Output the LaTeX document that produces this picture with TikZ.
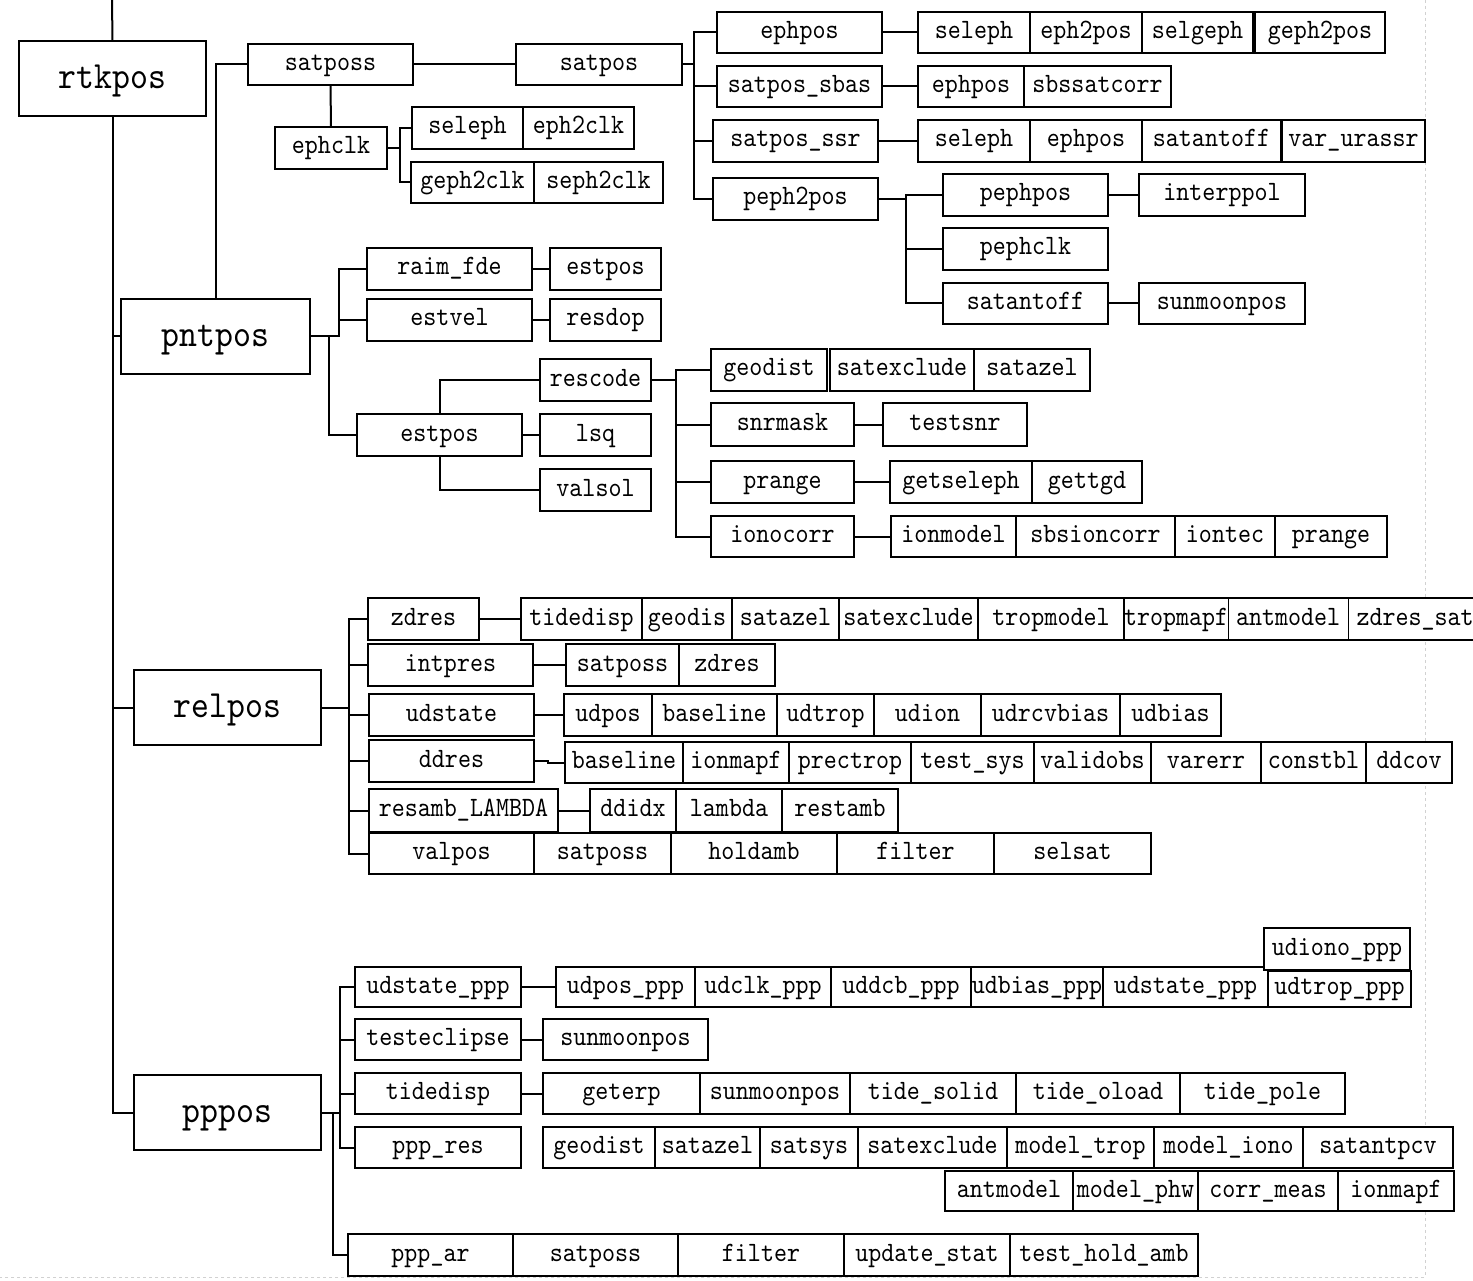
\documentclass[tikz,border=0pt]{standalone}
\usepackage{fontspec}
\newfontfamily\fnmono{lmmono10-regular.otf}[FakeStretch=0.885]
\usetikzlibrary{positioning}

\begin{document}
\begin{tikzpicture}[x=1pt, y=-1pt,
  fn/.style={draw, fill=white, line width=1.1pt, inner sep=0pt, outer sep=0pt, minimum height=42pt,
    text height=17pt, text depth=5pt, font=\fnmono\fontsize{28}{28}\selectfont},
  cell/.style={fn, anchor=north west},
  main/.style={cell, minimum width=187pt, minimum height=75pt, text height=26pt, text depth=6pt,
    font=\fnmono\fontsize{38.5}{38.5}\selectfont},
  link/.style={line width=2pt},
  page/.style={draw=black!18, dashed, line width=0.8pt},
]
  \useasboundingbox (0,0) rectangle (1473,1281);
  \draw[page] (1425,0) -- (1425,1277) -- (0,1277);

  \node[main] (rtkpos) at (19,41) {rtkpos};
  \node[main, minimum width=189pt] (pntpos) at (121,299) {pntpos};
  \node[main] (relpos) at (134,670) {relpos};
  \node[main] (pppos) at (134,1075) {pppos};

  \node[cell, minimum width=165pt, minimum height=41pt] (satposs) at (248,44) {satposs};
  \node[cell, minimum width=166pt, minimum height=41pt] (satpos) at (516,44) {satpos};
  \node[cell, minimum width=112pt] (ephclk) at (275,127) {ephclk};
  \node[cell, minimum width=111pt] (ec1) at (412,107) {seleph};
  \node[fn, minimum width=111pt, right=0pt of ec1] (ec2) {eph2clk};
  \node[cell, minimum width=123pt, minimum height=41pt] (ec3) at (411,162) {geph2clk};
  \node[fn, minimum width=129pt, minimum height=41pt, right=0pt of ec3] (ec4) {seph2clk};

  \node[cell, minimum width=165pt, minimum height=41pt] (ephpos) at (717,12) {ephpos};
  \node[cell, minimum width=165pt, minimum height=41pt] (sbas) at (717,66) {satpos\_sbas};
  \node[cell, minimum width=165pt] (ssr) at (713,120) {satpos\_ssr};
  \node[cell, minimum width=165pt] (peph) at (713,178) {peph2pos};

  \node[cell, minimum width=112pt, minimum height=41pt] (ep1) at (918,12) {seleph};
  \node[fn, minimum width=112pt, minimum height=41pt, right=0pt of ep1] (ep2) {eph2pos};
  \node[fn, minimum width=111pt, minimum height=41pt, right=0pt of ep2] (ep3) {selgeph};
  \node[fn, minimum width=130pt, minimum height=41pt, right=2pt of ep3] (ep4) {geph2pos};
  \node[cell, minimum width=106pt, minimum height=41pt] (sb1) at (918,66) {ephpos};
  \node[fn, minimum width=147pt, minimum height=41pt, right=0pt of sb1] (sb2) {sbssatcorr};
  \node[cell, minimum width=112pt] (ss1) at (918,120) {seleph};
  \node[fn, minimum width=112pt, right=0pt of ss1] (ss2) {ephpos};
  \node[fn, minimum width=139pt, right=0pt of ss2] (ss3) {satantoff};
  \node[fn, minimum width=143pt, right=1pt of ss3] (ss4) {var\_urassr};
  \node[cell, minimum width=165pt] (pp1) at (943,174) {pephpos};
  \node[cell, minimum width=166pt] (pp2) at (1139,174) {interppol};
  \node[cell, minimum width=165pt] (pp3) at (943,228) {pephclk};
  \node[cell, minimum width=165pt, minimum height=41pt] (pp4) at (943,283) {satantoff};
  \node[cell, minimum width=166pt, minimum height=41pt] (pp5) at (1139,283) {sunmoonpos};

  \node[cell, minimum width=165pt] (raim) at (367,248) {raim\_fde};
  \node[cell, minimum width=111pt] (raim2) at (550,248) {estpos};
  \node[cell, minimum width=165pt] (estvel) at (367,299) {estvel};
  \node[cell, minimum width=111pt] (resdop) at (550,299) {resdop};
  \node[cell, minimum width=165pt] (estpos) at (357,414) {estpos};
  \node[cell, minimum width=111pt] (rescode) at (540,359) {rescode};
  \node[cell, minimum width=111pt] (lsq) at (540,414) {lsq};
  \node[cell, minimum width=111pt] (valsol) at (540,469) {valsol};

  \node[cell, minimum width=116pt] (geodist) at (711,349) {geodist};
  \node[fn, minimum width=144pt, right=3pt of geodist] (rc1) {satexclude};
  \node[fn, minimum width=116pt, right=0pt of rc1] (rc2) {satazel};
  \node[cell, minimum width=143pt, minimum height=43pt] (snrmask) at (711,403) {snrmask};
  \node[cell, minimum width=144pt, minimum height=43pt] (testsnr) at (883,403) {testsnr};
  \node[cell, minimum width=143pt] (prange) at (711,461) {prange};
  \node[cell, minimum width=142pt] (getsel) at (890,461) {getseleph};
  \node[fn, minimum width=110pt, right=0pt of getsel] (gettgd) {gettgd};
  \node[cell, minimum width=143pt, minimum height=41pt] (ionocorr) at (711,516) {ionocorr};
  \node[cell, minimum width=125pt, minimum height=41pt] (io1) at (891,516) {ionmodel};
  \node[fn, minimum width=159pt, minimum height=41pt, right=0pt of io1] (io2) {sbsioncorr};
  \node[fn, minimum width=100pt, minimum height=41pt, right=0pt of io2] (io3) {iontec};
  \node[fn, minimum width=112pt, minimum height=41pt, right=0pt of io3] (io4) {prange};

  \node[cell, minimum width=111pt] (zdres) at (368,598) {zdres};
  \node[cell, minimum width=121pt] (zd1) at (521,598) {tidedisp};
  \node[fn, minimum width=90pt, right=0pt of zd1] (zd2) {geodis};
  \node[fn, minimum width=107pt, right=0pt of zd2] (zd3) {satazel};
  \node[fn, minimum width=139pt, right=0pt of zd3] (zd4) {satexclude};
  \node[fn, minimum width=146pt, right=0pt of zd4] (zd5) {tropmodel};
  \node[fn, minimum width=99pt, right=0pt of zd5] (zd6) {tropmapf};
  \node[fn, minimum width=120pt, right=0pt of zd6] (zd7) {antmodel};
  \node[fn, minimum width=134pt, right=0pt of zd7] (zd8) {zdres\_sat};
  \node[cell, minimum width=165pt] (intpres) at (368,644) {intpres};
  \node[cell, minimum width=113pt] (ip1) at (566,644) {satposs};
  \node[fn, minimum width=96pt, right=0pt of ip1] (ip2) {zdres};
  \node[cell, minimum width=165pt] (udstate) at (369,694) {udstate};
  \node[cell, minimum width=88pt] (ud1) at (564,694) {udpos};
  \node[fn, minimum width=125pt, right=0pt of ud1] (ud2) {baseline};
  \node[fn, minimum width=97pt, right=0pt of ud2] (ud3) {udtrop};
  \node[fn, minimum width=107pt, right=0pt of ud3] (ud4) {udion};
  \node[fn, minimum width=139pt, right=0pt of ud4] (ud5) {udrcvbias};
  \node[fn, minimum width=101pt, right=0pt of ud5] (ud6) {udbias};
  \node[cell, minimum width=165pt] (ddres) at (369,740) {ddres};
  \node[cell, minimum width=118pt, minimum height=41pt] (dd1) at (565,742) {baseline};
  \node[fn, minimum width=106pt, minimum height=41pt, right=0pt of dd1] (dd2) {ionmapf};
  \node[fn, minimum width=122pt, minimum height=41pt, right=0pt of dd2] (dd3) {prectrop};
  \node[fn, minimum width=123pt, minimum height=41pt, right=0pt of dd3] (dd4) {test\_sys};
  \node[fn, minimum width=117pt, minimum height=41pt, right=0pt of dd4] (dd5) {validobs};
  \node[fn, minimum width=110pt, minimum height=41pt, right=0pt of dd5] (dd6) {varerr};
  \node[fn, minimum width=105pt, minimum height=41pt, right=0pt of dd6] (dd7) {constbl};
  \node[fn, minimum width=86pt, minimum height=41pt, right=0pt of dd7] (dd8) {ddcov};
  \node[cell, minimum width=189pt, minimum height=43pt] (resamb) at (369,789) {resamb\_LAMBDA};
  \node[cell, minimum width=86pt, minimum height=43pt] (ra1) at (590,789) {ddidx};
  \node[fn, minimum width=106pt, minimum height=43pt, right=0pt of ra1] (ra2) {lambda};
  \node[fn, minimum width=116pt, minimum height=43pt, right=0pt of ra2] (ra3) {restamb};
  \node[cell, minimum width=165pt, minimum height=41pt] (valpos) at (369,833) {valpos};
  \node[fn, minimum width=137pt, minimum height=41pt, right=0pt of valpos] (vp1) {satposs};
  \node[fn, minimum width=166pt, minimum height=41pt, right=0pt of vp1] (vp2) {holdamb};
  \node[fn, minimum width=157pt, minimum height=41pt, right=0pt of vp2] (vp3) {filter};
  \node[fn, minimum width=157pt, minimum height=41pt, right=0pt of vp3] (vp4) {selsat};

  \node[cell, minimum width=166pt, minimum height=40pt] (udppp) at (355,967) {udstate\_ppp};
  \node[cell, minimum width=139pt, minimum height=40pt] (up1) at (556,967) {udpos\_ppp};
  \node[fn, minimum width=136pt, minimum height=40pt, right=0pt of up1] (up2) {udclk\_ppp};
  \node[fn, minimum width=140pt, minimum height=40pt, right=0pt of up2] (up3) {uddcb\_ppp};
  \node[fn, minimum width=132pt, minimum height=40pt, right=0pt of up3] (up4) {udbias\_ppp};
  \node[fn, minimum width=165pt, minimum height=40pt, right=0pt of up4] (up5) {udstate\_ppp};
  \node[cell, minimum width=146pt, minimum height=42pt] (up7) at (1264,928) {udiono\_ppp};
  \node[cell, minimum width=143pt, minimum height=36pt, text height=15pt, text depth=5pt] (up6) at (1268,971) {udtrop\_ppp};
  \node[cell, minimum width=166pt, minimum height=41pt] (tecl) at (355,1019) {testeclipse};
  \node[cell, minimum width=165pt, minimum height=41pt] (te1) at (543,1019) {sunmoonpos};
  \node[cell, minimum width=166pt, minimum height=41pt] (tide) at (355,1073) {tidedisp};
  \node[cell, minimum width=157pt, minimum height=41pt] (td1) at (543,1073) {geterp};
  \node[fn, minimum width=150pt, minimum height=41pt, right=0pt of td1] (td2) {sunmoonpos};
  \node[fn, minimum width=166pt, minimum height=41pt, right=0pt of td2] (td3) {tide\_solid};
  \node[fn, minimum width=164pt, minimum height=41pt, right=0pt of td3] (td4) {tide\_oload};
  \node[fn, minimum width=165pt, minimum height=41pt, right=0pt of td4] (td5) {tide\_pole};
  \node[cell, minimum width=166pt, minimum height=41pt] (pppres) at (355,1127) {ppp\_res};
  \node[cell, minimum width=112pt, minimum height=41pt] (pr1) at (543,1127) {geodist};
  \node[fn, minimum width=105pt, minimum height=41pt, right=0pt of pr1] (pr2) {satazel};
  \node[fn, minimum width=98pt, minimum height=41pt, right=0pt of pr2] (pr3) {satsys};
  \node[fn, minimum width=149pt, minimum height=41pt, right=0pt of pr3] (pr4) {satexclude};
  \node[fn, minimum width=147pt, minimum height=41pt, right=0pt of pr4] (pr5) {model\_trop};
  \node[fn, minimum width=149pt, minimum height=41pt, right=0pt of pr5] (pr6) {model\_iono};
  \node[fn, minimum width=150pt, minimum height=41pt, right=0pt of pr6] (pr7) {satantpcv};
  \node[cell, minimum width=128pt, minimum height=40pt] (pr8) at (945,1171) {antmodel};
  \node[fn, minimum width=125pt, minimum height=40pt, right=0pt of pr8] (pr9) {model\_phw};
  \node[fn, minimum width=140pt, minimum height=40pt, right=0pt of pr9] (pr10) {corr\_meas};
  \node[fn, minimum width=116pt, minimum height=40pt, right=0pt of pr10] (pr11) {ionmapf};
  \node[cell, minimum width=165pt] (ppar) at (348,1234) {ppp\_ar};
  \node[fn, minimum width=165pt, right=0pt of ppar] (pa1) {satposs};
  \node[fn, minimum width=166pt, right=0pt of pa1] (pa2) {filter};
  \node[fn, minimum width=166pt, right=0pt of pa2] (pa3) {update\_stat};
  \node[fn, minimum width=188pt, right=0pt of pa3] (pa4) {test\_hold\_amb};

  \coordinate (caller) at (112,0);
  \draw[link] (caller) -- (rtkpos.north);
  \draw[link] (rtkpos.south) |- (pntpos.west);
  \draw[link] (rtkpos.south) |- (relpos.west);
  \draw[link] (rtkpos.south) |- (pppos.west);

  \draw[link] (pntpos.north) |- (satposs.west);
  \draw[link] (satposs.east) -- (satpos.west);
  \draw[link] (satposs.south) -- (ephclk.north);
  \draw[link] (ephclk.east) -- ++(13,0) |- (ec1.west);
  \draw[link] (ephclk.east) -- ++(13,0) |- (ec3.west);
  \draw[link] (satpos.east) -- ++(12,0) |- (ephpos.west);
  \draw[link] (satpos.east) -- ++(12,0) |- (sbas.west);
  \draw[link] (satpos.east) -- ++(12,0) |- (ssr.west);
  \draw[link] (satpos.east) -- ++(12,0) |- (peph.west);
  \draw[link] (ephpos.east) -- (ep1.west);
  \draw[link] (sbas.east) -- (sb1.west);
  \draw[link] (ssr.east) -- (ss1.west);
  \draw[link] (peph.east) -- ++(28,0) |- (pp1.west);
  \draw[link] (peph.east) -- ++(28,0) |- (pp3.west);
  \draw[link] (peph.east) -- ++(28,0) |- (pp4.west);
  \draw[link] (pp1.east) -- (pp2.west);
  \draw[link] (pp4.east) -- (pp5.west);

  \draw[link] (pntpos.east) -- ++(29,0) |- (raim.west);
  \draw[link] (pntpos.east) -- ++(29,0) |- (estvel.west);
  \draw[link] (pntpos.east) -- ++(19,0) |- (estpos.west);
  \draw[link] (raim.east) -- (raim2.west);
  \draw[link] (estvel.east) -- (resdop.west);
  \draw[link] (estpos.north) |- (rescode.west);
  \draw[link] (estpos.east) -- (lsq.west);
  \draw[link] (estpos.south) |- (valsol.west);
  \draw[link] (rescode.east) -- ++(25,0) |- (geodist.west);
  \draw[link] (rescode.east) -- ++(25,0) |- (snrmask.west);
  \draw[link] (rescode.east) -- ++(25,0) |- (prange.west);
  \draw[link] (rescode.east) -- ++(25,0) |- (ionocorr.west);
  \draw[link] (snrmask.east) -- (testsnr.west);
  \draw[link] (prange.east) -- (getsel.west);
  \draw[link] (ionocorr.east) -- (io1.west);

  \draw[link] (relpos.east) -- ++(28,0) |- (zdres.west);
  \draw[link] (relpos.east) -- ++(28,0) |- (intpres.west);
  \draw[link] (relpos.east) -- ++(28,0) |- (udstate.west);
  \draw[link] (relpos.east) -- ++(28,0) |- (ddres.west);
  \draw[link] (relpos.east) -- ++(28,0) |- (resamb.west);
  \draw[link] (relpos.east) -- ++(28,0) |- (valpos.west);
  \draw[link] (zdres.east) -- (zd1.west);
  \draw[link] (intpres.east) -- (ip1.west);
  \draw[link] (udstate.east) -- (ud1.west);
  \draw[link] (ddres.east) -- ++(14,0) |- (dd1.west);
  \draw[link] (resamb.east) -- (ra1.west);

  \draw[link] (pppos.east) -- ++(19,0) |- (udppp.west);
  \draw[link] (pppos.east) -- ++(19,0) |- (tecl.west);
  \draw[link] (pppos.east) -- ++(19,0) |- (tide.west);
  \draw[link] (pppos.east) -- ++(19,0) |- (pppres.west);
  \draw[link] (pppos.east) -- ++(12,0) |- (ppar.west);
  \draw[link] (udppp.east) -- (up1.west);
  \draw[link] (tecl.east) -- (te1.west);
  \draw[link] (tide.east) -- (td1.west);
\end{tikzpicture}
\end{document}
